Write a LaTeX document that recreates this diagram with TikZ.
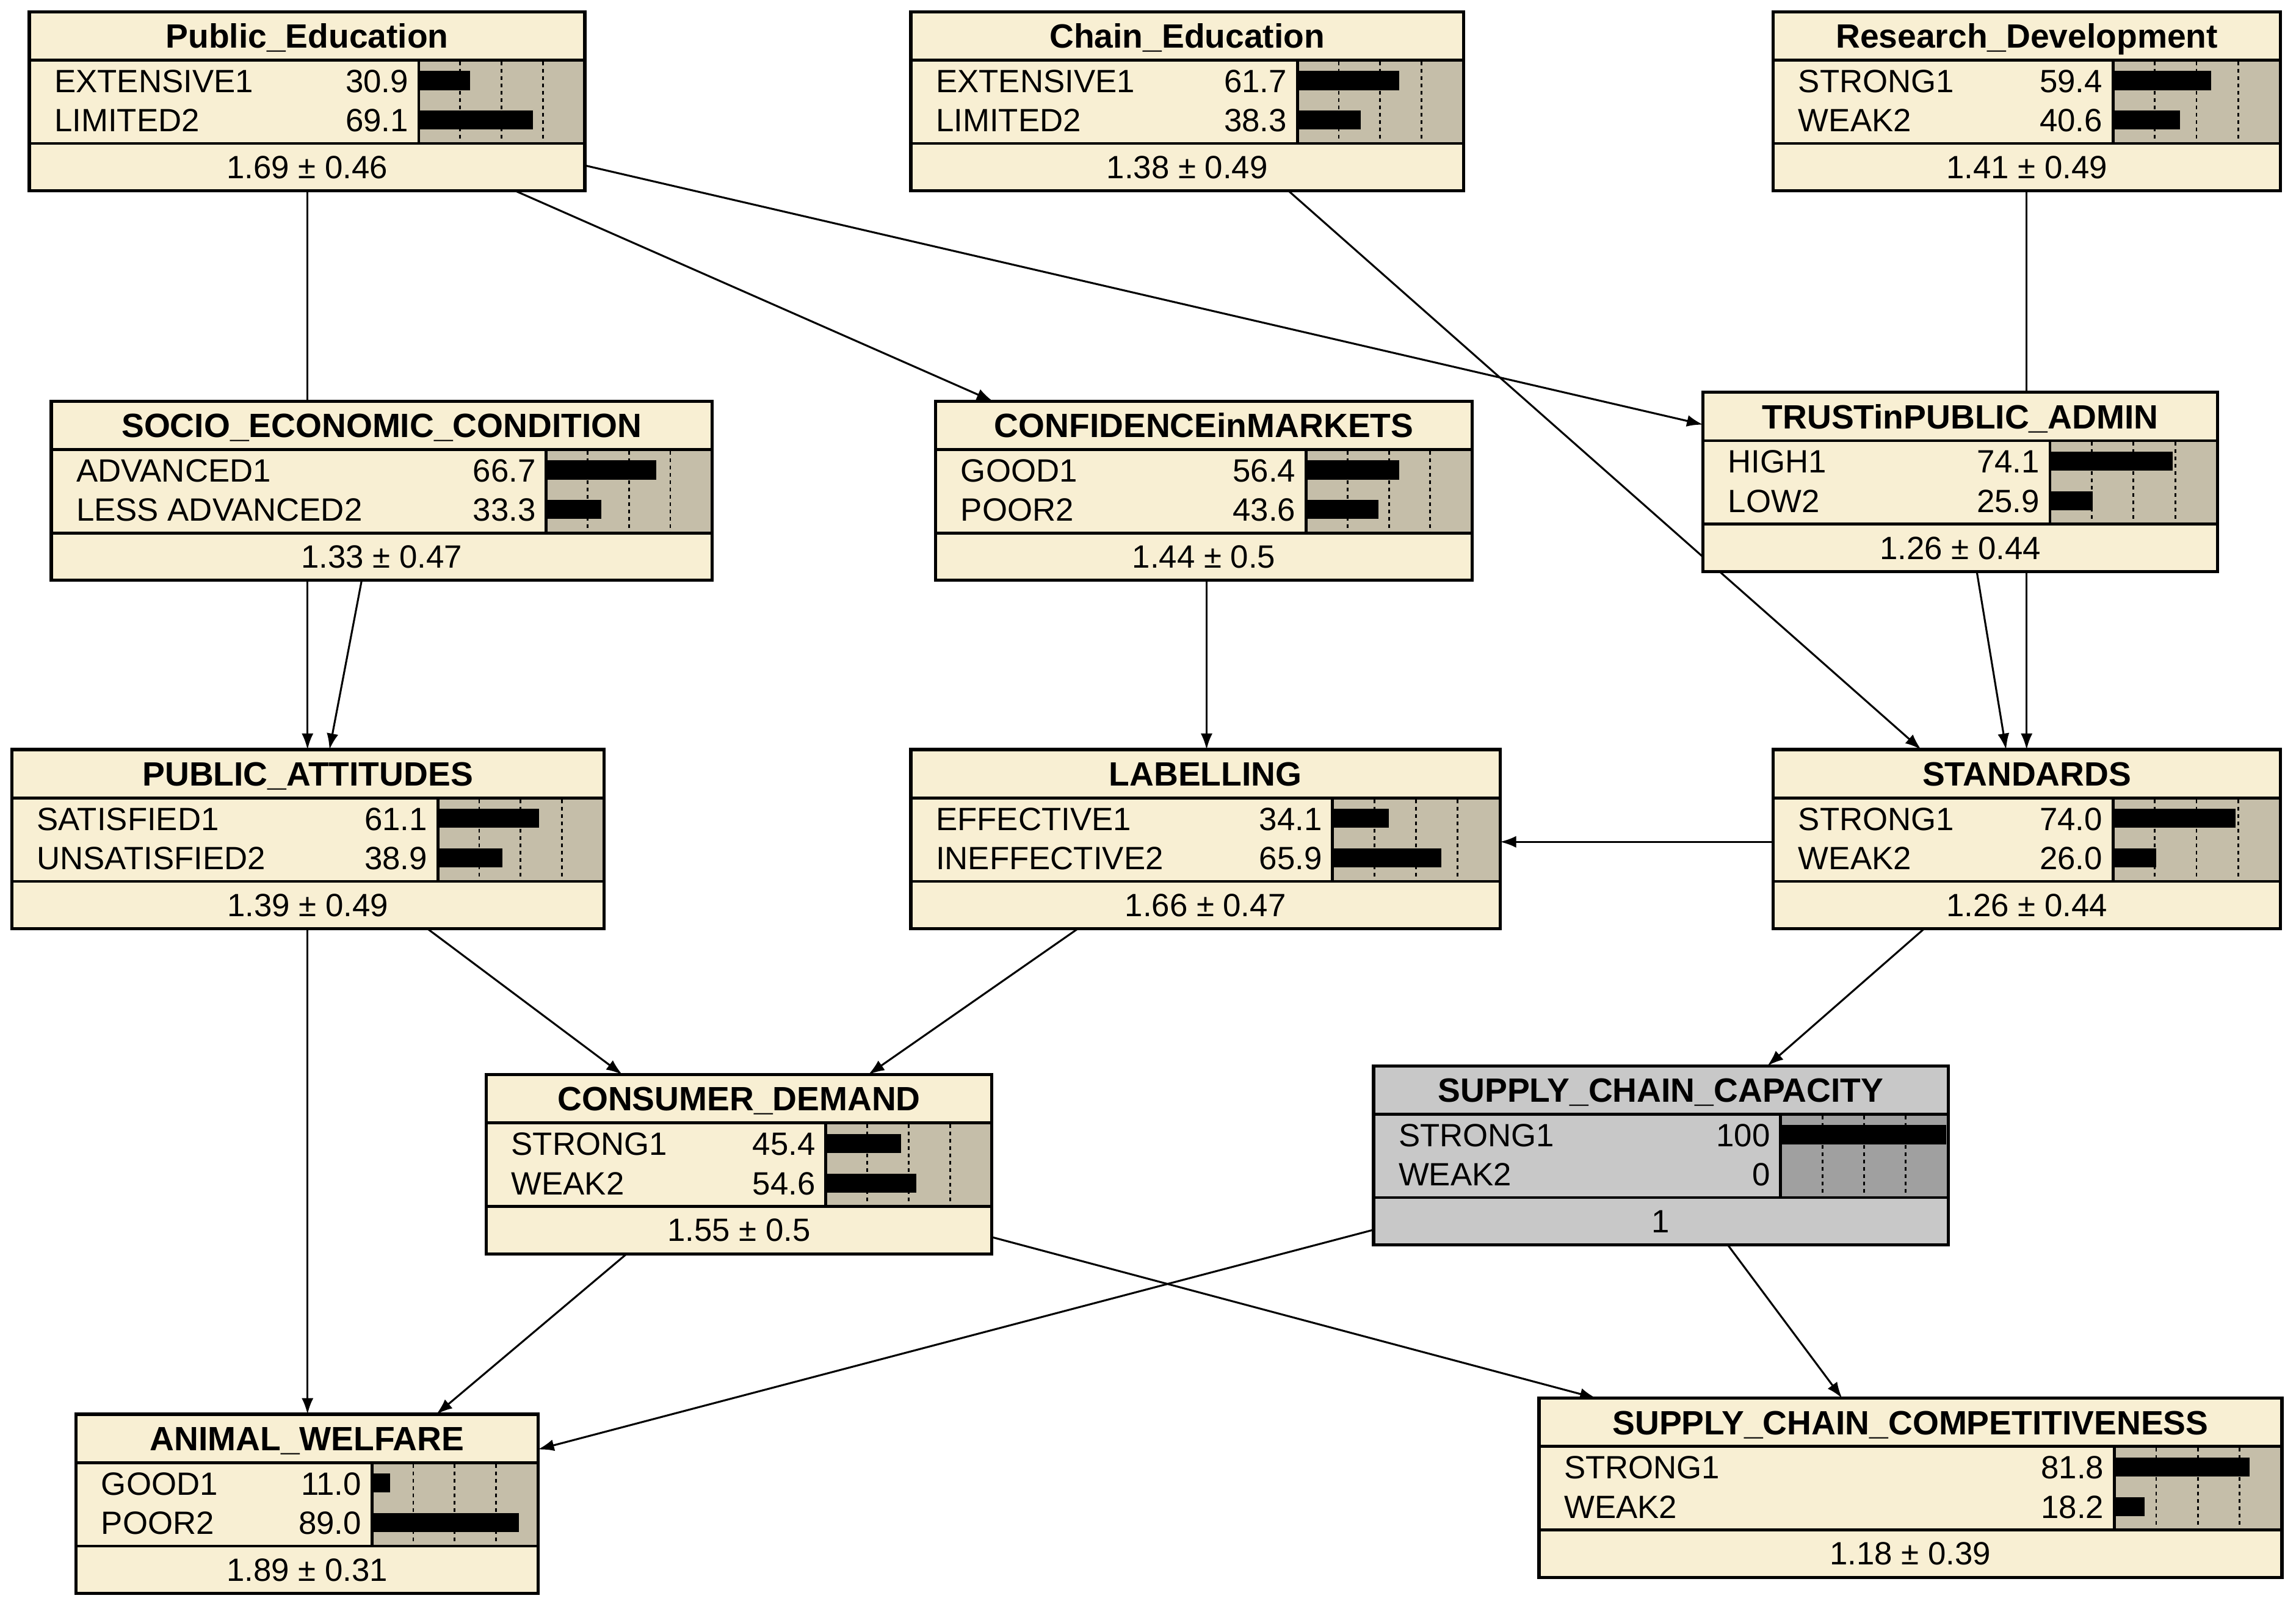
\documentclass[tikz,border=0pt]{standalone}
\usepackage{fontspec}
\setmainfont{Liberation Sans}
\usetikzlibrary{arrows.meta,calc,backgrounds}
\definecolor{cream}{HTML}{F8EFD3}
\definecolor{barbg}{HTML}{C5BEA9}
\definecolor{sccfill}{HTML}{C8C8C8}
\definecolor{sccbar}{HTML}{A0A0A0}
\tikzset{
  netbox/.style={inner sep=0pt, anchor=north west, minimum height=122pt},
  titletext/.style={font=\fontsize{23}{25}\selectfont\bfseries, inner sep=0pt, text height=16.5pt, text depth=0pt},
  statetext/.style={font=\fontsize{22}{24}\selectfont, inner sep=0pt, text height=16pt, text depth=0pt},
  edge/.style={line width=1.3pt, -{Latex[length=11pt,width=8pt]}},
  sepline/.style={line width=2pt},
  outline/.style={line width=2.2pt},
  ticks/.style={line width=1.2pt, dash pattern=on 2.5pt off 2.5pt},
}
% #1 name, #2 left, #3 top, #4 width, #5 bar left, #6 title, #7 fill, #8 bar fill
\newcommand\netnode[8]{%
  \node[netbox, fill=#7, minimum width=#4pt] (#1) at (#2,#3) {};
  \coordinate (#1-bar) at (#5,#3);
  \coordinate (#1-lab) at (#2+17,#3);
  \fill[#8] (#5,#3+33) rectangle (#2+#4,#3+90);
  \foreach \f in {0.25,0.5,0.75}{\draw[ticks] ({#5+(#2+#4-#5)*\f},{#3+34}) -- ({#5+(#2+#4-#5)*\f},{#3+89});}
  \node[titletext] at ($(#1.north)+(0,16.5)$) {#6};
}
% #1 name, #2 s1, #3 v1, #4 p1, #5 s2, #6 v2, #7 p2
\newcommand\netstates[7]{%
  \fill ($(#1-bar)+(0,47-6.5)$) rectangle ($(#1-bar)+({1.13*#4},47+6.5)$);
  \fill ($(#1-bar)+(0,74-6.5)$) rectangle ($(#1-bar)+({1.13*#7},74+6.5)$);
  \node[statetext, anchor=west] at ($(#1-lab)+(0,47)$) {#2};
  \node[statetext, anchor=west] at ($(#1-lab)+(0,74)$) {#5};
  \node[statetext, anchor=east] at ($(#1-bar)+(-7,47)$) {#3};
  \node[statetext, anchor=east] at ($(#1-bar)+(-7,74)$) {#6};
}
% #1 name, #2 footer
\newcommand\netfoot[2]{%
  \node[statetext] at ($(#1.south)+(0,-16.5)$) {#2};
  \draw[sepline] ($(#1.north west)+(0,33)$) -- ($(#1.north east)+(0,33)$);
  \draw[sepline] ($(#1.north west)+(0,90)$) -- ($(#1.north east)+(0,90)$);
  \draw[sepline] ($(#1-bar)+(0,33)$) -- ($(#1-bar)+(0,90)$);
  \draw[outline] (#1.north west) rectangle (#1.south east);
}
\begin{document}
\begin{tikzpicture}[x=1pt,y=-1pt]
\useasboundingbox (0,0) rectangle (1568,1101);

\netnode{pe}{20}{8}{379}{286}{Public\_Education}{cream}{barbg}
\netstates{pe}{EXTENSIVE1}{30.9}{30.9}{LIMITED2}{69.1}{69.1}
\netfoot{pe}{1.69 ± 0.46}

\netnode{ce}{622}{8}{377}{886}{Chain\_Education}{cream}{barbg}
\netstates{ce}{EXTENSIVE1}{61.7}{61.7}{LIMITED2}{38.3}{38.3}
\netfoot{ce}{1.38 ± 0.49}

\netnode{rd}{1211}{8}{346}{1443}{Research\_Development}{cream}{barbg}
\netstates{rd}{STRONG1}{59.4}{59.4}{WEAK2}{40.6}{40.6}
\netfoot{rd}{1.41 ± 0.49}

\netnode{sec}{35}{274}{451}{373}{SOCIO\_ECONOMIC\_CONDITION}{cream}{barbg}
\netstates{sec}{ADVANCED1}{66.7}{66.7}{LESS ADVANCED2}{33.3}{33.3}
\netfoot{sec}{1.33 ± 0.47}

\netnode{conf}{639}{274}{366}{892}{CONFIDENCEinMARKETS}{cream}{barbg}
\netstates{conf}{GOOD1}{56.4}{56.4}{POOR2}{43.6}{43.6}
\netfoot{conf}{1.44 ± 0.5}

\netnode{trust}{1163}{268}{351}{1400}{TRUSTinPUBLIC\_ADMIN}{cream}{barbg}
\netstates{trust}{HIGH1}{74.1}{74.1}{LOW2}{25.9}{25.9}
\netfoot{trust}{1.26 ± 0.44}

\netnode{pa}{8}{512}{404}{299}{PUBLIC\_ATTITUDES}{cream}{barbg}
\netstates{pa}{SATISFIED1}{61.1}{61.1}{UNSATISFIED2}{38.9}{38.9}
\netfoot{pa}{1.39 ± 0.49}

\netnode{lab}{622}{512}{402}{910}{LABELLING}{cream}{barbg}
\netstates{lab}{EFFECTIVE1}{34.1}{34.1}{INEFFECTIVE2}{65.9}{65.9}
\netfoot{lab}{1.66 ± 0.47}

\netnode{std}{1211}{512}{346}{1443}{STANDARDS}{cream}{barbg}
\netstates{std}{STRONG1}{74.0}{74.0}{WEAK2}{26.0}{26.0}
\netfoot{std}{1.26 ± 0.44}

\netnode{cd}{332}{734}{345}{564}{CONSUMER\_DEMAND}{cream}{barbg}
\netstates{cd}{STRONG1}{45.4}{45.4}{WEAK2}{54.6}{54.6}
\netfoot{cd}{1.55 ± 0.5}

\netnode{scc}{938}{728}{392}{1216}{SUPPLY\_CHAIN\_CAPACITY}{sccfill}{sccbar}
\netstates{scc}{STRONG1}{100}{100}{WEAK2}{0}{0}
\netfoot{scc}{1}

\netnode{aw}{52}{966}{315}{254}{ANIMAL\_WELFARE}{cream}{barbg}
\netstates{aw}{GOOD1}{11.0}{11.0}{POOR2}{89.0}{89.0}
\netfoot{aw}{1.89 ± 0.31}

\netnode{comp}{1051}{955}{507}{1444}{SUPPLY\_CHAIN\_COMPETITIVENESS}{cream}{barbg}
\netstates{comp}{STRONG1}{81.8}{81.8}{WEAK2}{18.2}{18.2}
\netfoot{comp}{1.18 ± 0.39}

\begin{scope}[on background layer]
\fill[white] (0,0) rectangle (1568,1101);
\draw[edge] ([xshift=190pt]pe.south west) -- ([xshift=202pt]pa.north west);
\draw[edge] ([xshift=212pt]sec.south west) -- ([xshift=217pt]pa.north west);
\draw[edge] ([xshift=332pt]pe.south west) -- ([xshift=39pt]conf.north west);
\draw[edge] ([yshift=-105pt]pe.north east) -- ([yshift=-22pt]trust.north west);
\draw[edge] ([xshift=258pt]ce.south west) -- ([xshift=101pt]std.north west);
\draw[edge] ([xshift=173pt]rd.south west) -- ([xshift=173pt]std.north west);
\draw[edge] ([xshift=187pt]trust.south west) -- ([xshift=159pt]std.north west);
\draw[edge] ([xshift=185pt]conf.south west) -- ([xshift=202pt]lab.north west);
\draw[edge] ([yshift=-63pt]std.north west) -- ([yshift=-63pt]lab.north east);
\draw[edge] ([xshift=284pt]pa.south west) -- ([xshift=93pt]cd.north west);
\draw[edge] ([xshift=114pt]lab.south west) -- ([xshift=261pt]cd.north west);
\draw[edge] ([xshift=103pt]std.south west) -- ([xshift=269pt]scc.north west);
\draw[edge] ([xshift=202pt]pa.south west) -- ([xshift=158pt]aw.north west);
\draw[edge] ([xshift=96pt]cd.south west) -- ([xshift=246pt]aw.north west);
\draw[edge] ([yshift=-112pt]scc.north west) -- ([yshift=-24pt]aw.north east);
\draw[edge] ([yshift=-111pt]cd.north east) -- ([xshift=39pt]comp.north west);
\draw[edge] ([xshift=242pt]scc.south west) -- ([xshift=207pt]comp.north west);
\end{scope}
\end{tikzpicture}
\end{document}
